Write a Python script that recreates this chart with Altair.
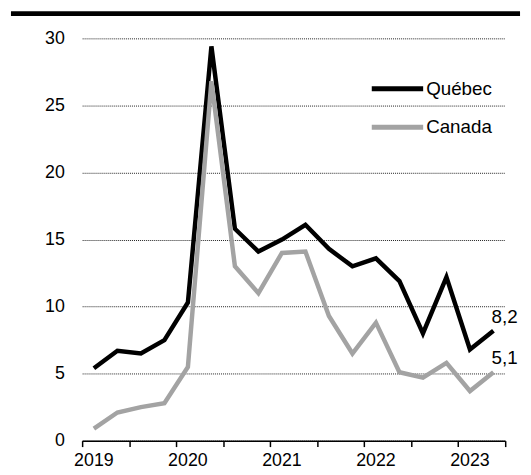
import altair as alt
import pandas as pd

quarters = ["2019T1", "2019T2", "2019T3", "2019T4",
            "2020T1", "2020T2", "2020T3", "2020T4",
            "2021T1", "2021T2", "2021T3", "2021T4",
            "2022T1", "2022T2", "2022T3", "2022T4",
            "2023T1", "2023T2"]
quebec = [5.4, 6.7, 6.5, 7.5, 10.3, 29.4, 15.8, 14.1, 15.0, 16.1, 14.3, 13.0,
          13.6, 11.9, 8.0, 12.2, 6.8, 8.2]
canada = [0.9, 2.1, 2.5, 2.8, 5.5, 26.8, 13.0, 11.0, 14.0, 14.1, 9.3, 6.5,
          8.8, 5.1, 4.7, 5.8, 3.7, 5.1]
series_names = ["Québec", "Canada"]
series_colors = ["#000000", "#a3a3a3"]
y_ticks = [0, 5, 10, 15, 20, 25, 30]

rows = []
for name, vals in zip(series_names, [quebec, canada]):
    for i, (q, v) in enumerate(zip(quarters, vals)):
        rows.append({"quarter": q, "series": name, "value": v, "pos": i + 0.5,
                     "label": f"{v:.1f}".replace(".", ",")})
df = pd.DataFrame(rows)
last = df[df["quarter"] == quarters[-1]].reset_index(drop=True)

year_df = pd.DataFrame({
    "pos": [i + 0.5 for i, q in enumerate(quarters) if q.endswith("T1")],
    "year": [q[:4] for q in quarters if q.endswith("T1")],
})

FONT = "Liberation Sans"
W, H = 428, 407
n = len(quarters)

color_scale = alt.Scale(domain=series_names, range=series_colors)

x_enc = alt.X("pos:Q",
              scale=alt.Scale(domain=[0, n], nice=False, zero=False),
              axis=alt.Axis(title=None, values=list(range(n + 1)), labels=False,
                            domainColor="#000000", domainWidth=1.5,
                            tickColor="#000000", tickWidth=1.5, tickSize=6,
                            grid=False))
y_enc = alt.Y("value:Q",
              scale=alt.Scale(domain=[0, 30], nice=False, zero=True),
              axis=alt.Axis(title=None, values=y_ticks, domain=False, ticks=False,
                            labelFontSize=18, labelPadding=18, labelColor="#000000",
                            labelFont=FONT, grid=True, gridColor="#222222",
                            gridDash=[1, 1], gridWidth=1))

lines = alt.Chart(df).mark_line(strokeWidth=4.5).encode(
    x=x_enc,
    y=y_enc,
    color=alt.Color("series:N", scale=color_scale, legend=None),
)

end_labels = alt.Chart(last).mark_text(align="left", baseline="middle", dx=-2, dy=-14,
                                        fontSize=19, font=FONT, color="#000000").encode(
    x=alt.X("pos:Q"),
    y=alt.Y("value:Q"),
    text="label:N",
)

year_labels = alt.Chart(year_df).mark_text(align="center", baseline="top", fontSize=18,
                                           font=FONT, color="#000000").encode(
    x=alt.X("pos:Q"),
    y=alt.value(H + 12),
    text="year:N",
)

# manual legend
leg_df = pd.DataFrame({"series": series_names, "row": [0, 1]})
leg_base = alt.Chart(leg_df).transform_calculate(ly="51 + 39 * datum.row")
leg_lines = leg_base.mark_rule(strokeWidth=5).encode(
    x=alt.value(293), x2=alt.value(345),
    y=alt.Y("ly:Q", scale=None),
    color=alt.Color("series:N", scale=color_scale, legend=None),
)
leg_text = leg_base.mark_text(align="left", baseline="middle", dx=3, fontSize=19,
                              font=FONT, color="#000000").encode(
    x=alt.value(345),
    y=alt.Y("ly:Q", scale=None),
    text="series:N",
)

top_rule = alt.Chart(pd.DataFrame({"k": [0]})).mark_rule(color="#000000", strokeWidth=5).encode(
    x=alt.value(-72), x2=alt.value(443), y=alt.value(-25)
)

chart = alt.layer(lines, end_labels, year_labels, leg_lines, leg_text, top_rule).properties(
    width=W, height=H, padding=0
).configure_view(strokeWidth=0)

chart.save("out.html", embed_options={"renderer": "svg", "actions": False})
